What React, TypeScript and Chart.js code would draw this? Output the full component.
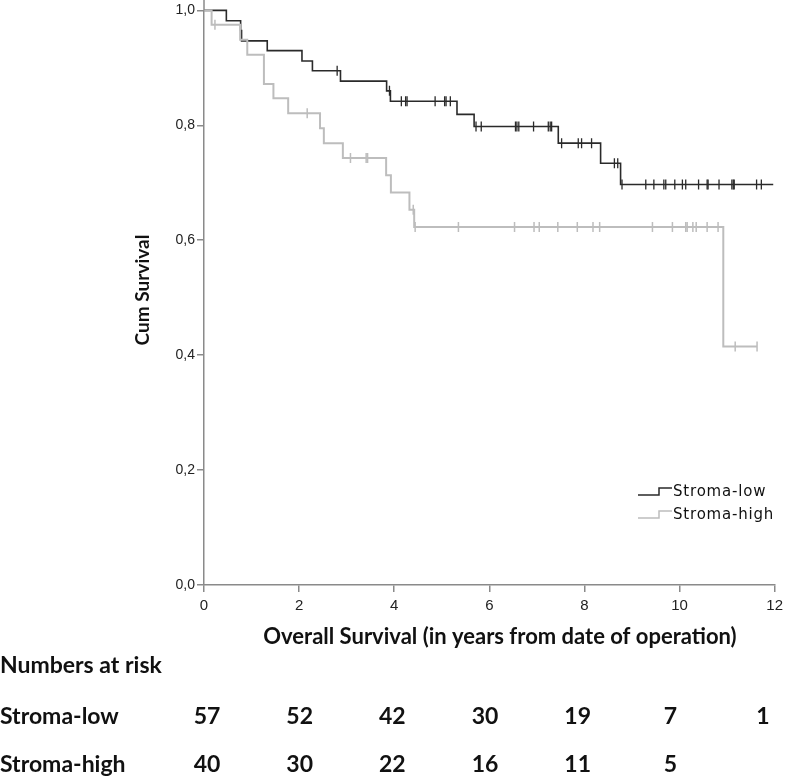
import React, { useEffect, useRef } from "react";
import { Chart, registerables } from "chart.js";

Chart.register(...registerables);

// ---- Data ----
const lowEventTimes = [0, 0.47, 0.77, 0.79, 1.33, 2.06, 2.28, 2.87, 3.84, 3.92, 5.32, 5.68, 7.45, 8.34, 8.76, 11.97];
const lowEventSurv = [1.0, 0.982, 0.965, 0.947, 0.93, 0.912, 0.895, 0.877, 0.86, 0.842, 0.819, 0.798, 0.769, 0.734, 0.697, 0.697];
const lowCensorTimes = [2.8, 3.9, 4.15, 4.24, 4.27, 4.86, 5.06, 5.09, 5.18, 5.72, 5.83, 6.55, 6.58, 6.62, 6.93, 7.24, 7.28, 7.31, 7.52, 7.87, 7.94, 8.15, 8.63, 8.7, 8.79, 9.29, 9.46, 9.67, 9.71, 9.9, 10.06, 10.13, 10.4, 10.58, 10.6, 10.83, 11.1, 11.13, 11.15, 11.62, 11.72];

const highEventTimes = [0, 0.16, 0.76, 0.91, 1.26, 1.46, 1.77, 2.44, 2.52, 2.92, 3.83, 3.93, 4.32, 4.42, 10.92, 11.63];
const highEventSurv = [1.0, 0.975, 0.949, 0.923, 0.872, 0.847, 0.821, 0.795, 0.769, 0.743, 0.713, 0.683, 0.653, 0.623, 0.415, 0.415];
const highCensorTimes = [0.23, 2.17, 3.08, 3.41, 3.44, 4.4, 4.44, 5.35, 6.53, 6.94, 7.05, 7.44, 7.85, 8.18, 8.32, 9.43, 9.85, 10.13, 10.16, 10.28, 10.35, 10.58, 10.81, 11.17, 11.63];

const seriesNames = ["Stroma-low", "Stroma-high"];
const riskLowCounts = ["57", "52", "42", "30", "19", "7", "1"];
const riskHighCounts = ["40", "30", "22", "16", "11", "5", ""];
const xTitle = "Overall Survival (in years from date of operation)";
const yTitle = "Cum Survival";
const riskTitle = "Numbers at risk";

const LOW_COLOR = "#2a2a2a";
const HIGH_COLOR = "#bdbdbd";
const AXIS_COLOR = "#8a8a8a";

function survAt(times: number[], surv: number[], t: number) {
  let s = surv[0];
  for (let i = 0; i < times.length; i++) {
    if (times[i] <= t) s = surv[i];
  }
  return s;
}

const overlayPlugin = {
  id: "overlay",
  afterDraw(chart: any) {
    const ctx = chart.ctx;
    const area = chart.chartArea;
    ctx.save();
    // extend the y axis line to the top edge, as in the original
    ctx.strokeStyle = AXIS_COLOR;
    ctx.lineWidth = 1.5;
    ctx.beginPath();
    ctx.moveTo(area.left, 0);
    ctx.lineTo(area.left, area.top);
    ctx.stroke();

    // Y title
    ctx.fillStyle = "#111";
    ctx.font = "bold 19px Lato, 'Open Sans', sans-serif";
    ctx.textAlign = "center";
    ctx.textBaseline = "middle";
    ctx.save();
    ctx.translate(143, 290);
    ctx.rotate(-Math.PI / 2);
    ctx.fillText(yTitle, 0, 0);
    ctx.restore();

    // X title
    ctx.font = "bold 22px Lato, 'Open Sans', sans-serif";
    ctx.fillText(xTitle, 500, 637);

    // Numbers at risk
    ctx.textAlign = "left";
    ctx.font = "bold 23px Lato, 'Open Sans', sans-serif";
    ctx.fillText(riskTitle, 0, 666);
    ctx.fillText(seriesNames[0], 0, 717);
    ctx.fillText(seriesNames[1], 0, 765);
    ctx.textAlign = "center";
    const c0 = 207;
    const c1 = 763;
    for (let i = 0; i < riskLowCounts.length; i++) {
      const x = c0 + ((c1 - c0) * i) / (riskLowCounts.length - 1);
      ctx.fillText(riskLowCounts[i], x, 717);
      if (riskHighCounts[i]) ctx.fillText(riskHighCounts[i], x, 765);
    }

    // Legend
    const items = [
      { name: seriesNames[0], color: LOW_COLOR, y: 495 },
      { name: seriesNames[1], color: HIGH_COLOR, y: 518 },
    ];
    ctx.font = "15px 'DejaVu Sans', sans-serif";
    (ctx as any).letterSpacing = "0.8px";
    ctx.textAlign = "left";
    for (const it of items) {
      ctx.strokeStyle = it.color;
      ctx.lineWidth = 1.5;
      ctx.beginPath();
      ctx.moveTo(638, it.y);
      ctx.lineTo(659, it.y);
      ctx.lineTo(659, it.y - 7);
      ctx.lineTo(672, it.y - 7);
      ctx.stroke();
      ctx.fillStyle = "#111";
      ctx.textBaseline = "middle";
      ctx.fillText(it.name, 673, it.y - 3);
    }
    ctx.restore();
  },
};

export default function App() {
  const ref = useRef<HTMLCanvasElement | null>(null);
  useEffect(() => {
    document.body.style.margin = "0";
    const canvas = ref.current!;
    const lowLine = lowEventTimes.map((t, i) => ({ x: t, y: lowEventSurv[i] }));
    const highLine = highEventTimes.map((t, i) => ({ x: t, y: highEventSurv[i] }));
    const lowCens = lowCensorTimes.map((t) => ({ x: t, y: survAt(lowEventTimes, lowEventSurv, t) }));
    const highCens = highCensorTimes.map((t) => ({ x: t, y: survAt(highEventTimes, highEventSurv, t) }));
    const chart = new Chart(canvas, {
      type: "line",
      data: {
        datasets: [
          {
            label: seriesNames[1],
            data: highLine,
            borderColor: HIGH_COLOR,
            borderWidth: 2,
            stepped: "before",
            pointRadius: 0,
            clip: 10,
          } as any,
          {
            label: seriesNames[1] + " censored",
            data: highCens,
            showLine: false,
            pointStyle: "line",
            rotation: 90,
            pointRadius: 5,
            borderColor: HIGH_COLOR,
            borderWidth: 1.5,
            clip: 10,
          } as any,
          {
            label: seriesNames[0],
            data: lowLine,
            borderColor: LOW_COLOR,
            borderWidth: 1.6,
            stepped: "before",
            pointRadius: 0,
            clip: 10,
          } as any,
          {
            label: seriesNames[0] + " censored",
            data: lowCens,
            showLine: false,
            pointStyle: "line",
            rotation: 90,
            pointRadius: 5,
            borderColor: LOW_COLOR,
            borderWidth: 1.3,
            clip: 10,
          } as any,
        ],
      },
      options: {
        animation: false,
        responsive: false,
        layout: { padding: { top: 5, right: 8, left: 0, bottom: 0 } },
        plugins: { legend: { display: false }, tooltip: { enabled: false } },
        scales: {
          x: {
            type: "linear",
            min: 0,
            max: 12,
            ticks: {
              stepSize: 2,
              color: "#222",
              font: { family: "'Liberation Sans Narrow', 'Liberation Sans', sans-serif", size: 15 },
              padding: 5,
            },
            grid: { drawOnChartArea: false, drawTicks: true, tickLength: 7, color: AXIS_COLOR, lineWidth: 1.5 },
            border: { color: AXIS_COLOR, width: 1.5 },
            afterFit(scale: any) {
              scale.height = 197;
            },
          },
          y: {
            min: 0,
            max: 1,
            ticks: {
              stepSize: 0.2,
              color: "#222",
              font: { family: "'Liberation Sans Narrow', 'Liberation Sans', sans-serif", size: 14 },
              padding: 2,
              callback: (v: any) => Number(v).toFixed(1).replace(".", ","),
            },
            grid: { drawOnChartArea: false, drawTicks: true, tickLength: 7, color: AXIS_COLOR, lineWidth: 1.5 },
            border: { color: AXIS_COLOR, width: 1.5 },
            afterFit(scale: any) {
              scale.width = 204;
            },
          },
        },
      },
      plugins: [overlayPlugin],
    });
    return () => chart.destroy();
  }, []);
  return (
    <div style={{ width: 788, height: 782 }}>
      <canvas ref={ref} width={788} height={782} style={{ display: "block" }} />
    </div>
  );
}
